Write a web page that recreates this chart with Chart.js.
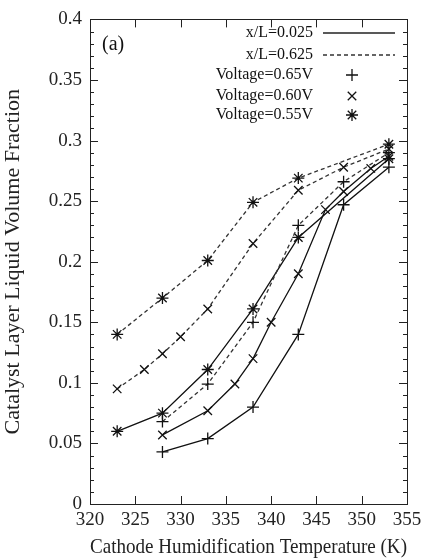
<!DOCTYPE html>
<html>
<head>
<meta charset="utf-8">
<script src="https://cdn.jsdelivr.net/npm/chart.js@4/dist/chart.umd.min.js"></script>
<style>
  html, body { margin: 0; padding: 0; background: #fff; }
  #wrap { width: 428px; height: 560px; }
</style>
</head>
<body>
<div id="wrap"><canvas id="humidChart"></canvas></div>
<script>
// temperatures (K) and liquid volume fractions
const temp65 = [328, 333, 338, 343, 348, 353];
const solid65 = [0.043, 0.054, 0.080, 0.140, 0.247, 0.278];
const dashed65 = [0.068, 0.099, 0.150, 0.230, 0.266, 0.290];

const tempSolid60 = [328, 333, 336, 338, 340, 343, 346, 348, 351, 353];
const solid60 = [0.057, 0.077, 0.099, 0.120, 0.150, 0.190, 0.243, 0.258, 0.277, 0.287];
const tempDashed60 = [323, 326, 328, 330, 333, 338, 343, 348, 353];
const dashed60 = [0.095, 0.111, 0.124, 0.138, 0.161, 0.215, 0.259, 0.278, 0.293];

const temp55 = [323, 328, 333, 338, 343, 353];
const solid55 = [0.060, 0.075, 0.111, 0.161, 0.220, 0.285];
const tempDashed55 = [323, 328, 333, 338, 343, 353];
const dashed55 = [0.140, 0.170, 0.201, 0.249, 0.269, 0.297];

const xTicks = [320, 325, 330, 335, 340, 345, 350, 355];
const yTicks = [0, 0.05, 0.1, 0.15, 0.2, 0.25, 0.3, 0.35, 0.4];

const legendRows = ['x/L=0.025', 'x/L=0.625', 'Voltage=0.65V', 'Voltage=0.60V', 'Voltage=0.55V'];

const SERIF = '"Liberation Serif", "DejaVu Serif", serif';
const DASH = [4, 3];

function pts(xs, ys) {
    return xs.map((x, i) => ({ x: x, y: ys[i] }));
}

function series(label, xs, ys, dashed, marker) {
    return {
        label: label,
        data: pts(xs, ys),
        borderColor: dashed ? '#333' : '#111',
        borderWidth: 1.3,
        borderDash: dashed ? DASH : [],
        pointStyle: marker,
        pointRadius: 6,
        pointBorderWidth: 1.3,
        pointBorderColor: '#111',
        pointBackgroundColor: '#111',
        fill: false,
        tension: 0
    };
}

// gnuplot style ticks pointing inward on all four sides
const innerTicks = {
    id: 'innerTicks',
    afterDraw(chart) {
        const c = chart.ctx, a = chart.chartArea;
        const xs = chart.scales.x, ys = chart.scales.y;
        c.save();
        c.strokeStyle = '#222';
        c.lineWidth = 1;
        c.beginPath();
        xTicks.forEach(v => {
            const px = Math.round(xs.getPixelForValue(v)) + 0.5;
            c.moveTo(px, a.bottom); c.lineTo(px, a.bottom - 8);
            c.moveTo(px, a.top); c.lineTo(px, a.top + 8);
        });
        for (let v = 0; v <= 0.4001; v += 0.01) {
            const py = Math.round(ys.getPixelForValue(v)) + 0.5;
            const major = Math.abs(v * 20 - Math.round(v * 20)) < 1e-6;
            const len = major ? 8 : 4;
            c.moveTo(a.left, py); c.lineTo(a.left + len, py);
            c.moveTo(a.right, py); c.lineTo(a.right - len, py);
        }
        c.stroke();
        c.strokeRect(Math.round(a.left) + 0.5, Math.round(a.top) + 0.5,
            Math.round(a.right - a.left), Math.round(a.bottom - a.top));

        // panel label
        c.fillStyle = '#111';
        c.font = '20px ' + SERIF;
        c.textBaseline = 'middle';
        c.textAlign = 'left';
        c.fillText('(a)', a.left + 12, 45);

        // legend
        const rowY = [33, 55, 75, 96, 115];
        const textRight = 313;
        c.font = '16px ' + SERIF;
        c.textAlign = 'right';
        rowY.forEach((y, i) => c.fillText(legendRows[i], textRight, y));
        c.lineWidth = 1.3;
        c.beginPath();
        c.moveTo(323, rowY[0]); c.lineTo(395, rowY[0]);
        c.stroke();
        c.setLineDash(DASH);
        c.strokeStyle = '#333';
        c.beginPath();
        c.moveTo(323, rowY[1]); c.lineTo(395, rowY[1]);
        c.stroke();
        c.setLineDash([]);
        c.strokeStyle = '#111';
        c.fillStyle = '#111';
        const opts = { pointStyle: 'cross', radius: 6, borderWidth: 1.3 };
        ['cross', 'crossRot', 'star'].forEach((s, i) => {
            opts.pointStyle = s;
            Chart.helpers.drawPoint(c, opts, 352, rowY[i + 2]);
        });
        c.restore();
    }
};

new Chart(document.getElementById('humidChart'), {
    type: 'line',
    data: {
        datasets: [
            series('0.65V x/L=0.025', temp65, solid65, false, 'cross'),
            series('0.65V x/L=0.625', temp65, dashed65, true, 'cross'),
            series('0.60V x/L=0.025', tempSolid60, solid60, false, 'crossRot'),
            series('0.60V x/L=0.625', tempDashed60, dashed60, true, 'crossRot'),
            series('0.55V x/L=0.025', temp55, solid55, false, 'star'),
            series('0.55V x/L=0.625', tempDashed55, dashed55, true, 'star')
        ]
    },
    options: {
        responsive: true,
        maintainAspectRatio: false,
        animation: false,
        layout: { padding: { top: 16, right: 21, left: 0, bottom: 0 } },
        plugins: {
            legend: { display: false },
            tooltip: { enabled: false }
        },
        scales: {
            x: {
                type: 'linear',
                min: 320,
                max: 355,
                afterBuildTicks: s => { s.ticks = xTicks.map(v => ({ value: v })); },
                afterFit: s => { s.height = 56; },
                grid: { display: false, drawTicks: false },
                border: { display: false },
                ticks: {
                    color: '#222',
                    padding: 5,
                    maxRotation: 0,
                    font: { family: SERIF, size: 19 }
                },
                title: {
                    display: true,
                    text: 'Cathode Humidification Temperature (K)',
                    color: '#222',
                    padding: { top: 0, bottom: 0 },
                    font: { family: SERIF, size: 21 }
                }
            },
            y: {
                type: 'linear',
                min: 0,
                max: 0.4,
                afterBuildTicks: s => { s.ticks = yTicks.map(v => ({ value: v })); },
                afterFit: s => { s.width = 90; },
                grid: { display: false, drawTicks: false },
                border: { display: false },
                ticks: {
                    color: '#222',
                    padding: 8,
                    font: { family: SERIF, size: 19 },
                    callback: v => String(Math.round(v * 100) / 100)
                },
                title: {
                    display: true,
                    text: 'Catalyst Layer Liquid Volume Fraction',
                    color: '#222',
                    padding: { top: 0, bottom: 3 },
                    font: { family: SERIF, size: 22 }
                }
            }
        }
    },
    plugins: [innerTicks]
});
</script>
</body>
</html>
